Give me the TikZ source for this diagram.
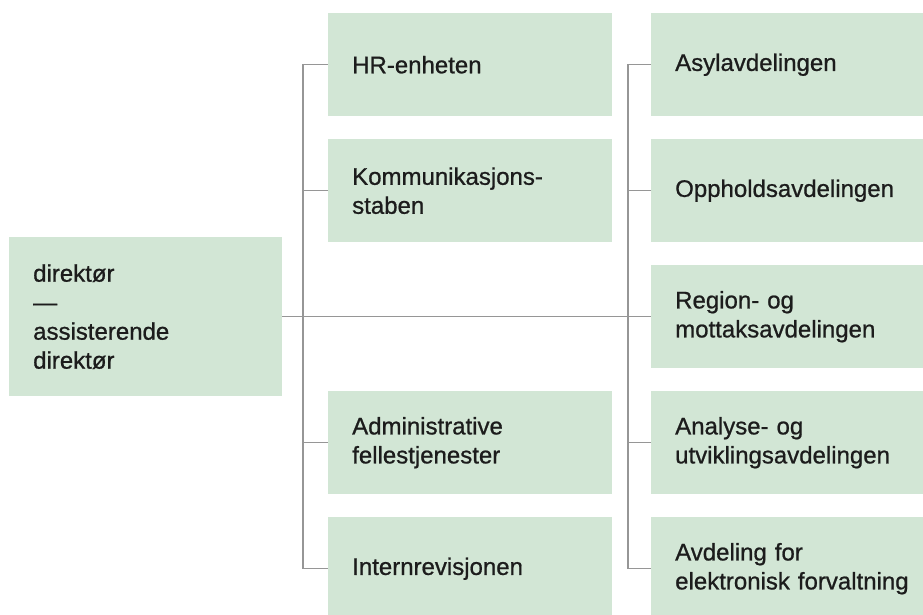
\documentclass[tikz,border=0pt]{standalone}
\usepackage{fontspec}
\setmainfont{Liberation Sans}
\newfontfamily\unitfont[FakeBold=0.8]{Liberation Sans}
\usepackage{tikz}

\definecolor{boxgreen}{RGB}{210,230,213}
\definecolor{linegray}{RGB}{150,150,150}
\definecolor{textdark}{RGB}{28,28,28}

\tikzset{
  unit/.style = {rectangle, fill = boxgreen, anchor = north west, inner xsep = 24pt, inner ysep = 0pt, minimum height = 103pt, align = left, text = textdark, font = \unitfont\fontsize{24}{29}\selectfont},
  link/.style = {draw = linegray, line width = 1.5pt}
}

\begin{document}
\begin{tikzpicture}[x = 1pt, y = -1pt]

\useasboundingbox (0, 0) rectangle (923, 614);
\clip (0, 0) rectangle (923, 614);
\fill[white] (0, 0) rectangle (923, 614);

\def\midx{328}
\def\rightx{651}

% Director
\node[unit, anchor = north west, minimum height = 159pt, text width = 225pt] (dir) at (9, 237) {direktør\\—\\assisterende\\direktør};

% Staff units
\foreach \name/\top/\txt in {m1/13/HR-enheten, m2/139/{Kommunikasjons-\\staben}, m3/391/{Administrative\\fellestjenester}, m4/517/Internrevisjonen} {
  \node[unit, text width = 236pt] (\name) at (\midx, \top) {\txt};
}

% Departments
\foreach \name/\top/\txt in {r1/13/Asylavdelingen, r2/139/Oppholdsavdelingen, r3/265/{Region- og\\mottaksavdelingen}, r4/391/{Analyse- og\\utviklingsavdelingen}, r5/517/{Avdeling for\\elektronisk forvaltning}} {
  \node[unit, text width = 250pt] (\name) at (\rightx, \top) {\txt};
}

% Connectors
\draw[link] (dir.east) -- (r3.west);

\draw[link] (m1.west) -- ++(-25, 0) |- (m4.west);
\foreach \name in {m2, m3} {
  \draw[link] (\name.west) -- ++(-25, 0);
}

\draw[link] (r1.west) -- ++(-23, 0) |- (r5.west);
\foreach \name in {r2, r4} {
  \draw[link] (\name.west) -- ++(-23, 0);
}

\end{tikzpicture}
\end{document}
